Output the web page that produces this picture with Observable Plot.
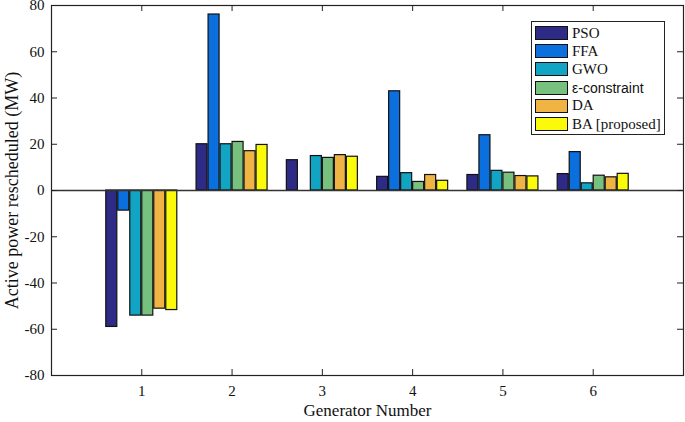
<!DOCTYPE html>
<html>
<head>
<meta charset="utf-8">
<script src="https://cdn.jsdelivr.net/npm/d3@7"></script>
<script src="https://cdn.jsdelivr.net/npm/@observablehq/plot@0.6"></script>
<style>
  html, body { margin: 0; padding: 0; background: #fff; }
  #wrap { position: relative; width: 685px; height: 422px; }
  #wrap svg text { font-family: "Liberation Serif", "Times New Roman", Times, serif; }
  #legend { position: absolute; left: 531px; top: 21px; width: 134px; height: 114px; border: 1px solid #222; background: #fff; box-sizing: border-box; padding: 2px 0 0 3px; }
  .row { display: flex; align-items: center; height: 18.2px; }
  .sw { width: 33px; height: 14px; border: 1px solid #111; box-sizing: border-box; margin-right: 4px; }
  .lab { font-family: "Liberation Serif", "Times New Roman", Times, serif; font-size: 15px; color: #111; white-space: nowrap; }
  .lab.sans { font-family: "Liberation Sans", Arial, sans-serif; font-size: 14px; }
</style>
</head>
<body>
<div id="wrap"></div>
<script>
const groups = [1, 2, 3, 4, 5, 6];
const methods = ["PSO", "FFA", "GWO", "ε-constraint", "DA", "BA [proposed]"];
const colors = ["#2e2b87", "#0b6fde", "#11a5c3", "#78c07e", "#f0b444", "#fafa0a"];
const pso = [-59.0, 20.0, 13.1, 5.9, 6.7, 7.1];
const ffa = [-8.7, 76.1, 0, 42.9, 23.9, 16.6];
const gwo = [-54.1, 20.0, 14.9, 7.5, 8.5, 3.1];
const eps = [-54.1, 21.0, 14.1, 3.7, 7.7, 6.4];
const da  = [-51.1, 17.0, 15.3, 6.7, 6.25, 5.7];
const ba  = [-51.7, 19.7, 14.6, 4.2, 6.1, 7.2];
const yTicks = [-80, -60, -40, -20, 0, 20, 40, 60, 80];

const series = [pso, ffa, gwo, eps, da, ba];
const data = [];
series.forEach((vals, i) => vals.forEach((v, j) => data.push({group: groups[j], method: methods[i], idx: i, value: v})));

const step = 0.1329, bw = 0.122;
const W = 685, H = 422, mL = 51, mR = 2, mT = 5, mB = 47;
const frameH = H - mT - mB, frameW = W - mL - mR;
const tickLen = 6;
const serif = "Liberation Serif";

const chart = Plot.plot({
  width: W, height: H,
  marginLeft: mL, marginRight: mR, marginTop: mT, marginBottom: mB,
  style: {fontFamily: serif, fontSize: "15px", color: "#111", background: "#fff"},
  x: {type: "linear", domain: [0, 7]},
  y: {domain: [-80, 80]},
  color: {domain: methods, range: colors},
  marks: [
    Plot.rectY(data, {
      x1: d => d.group + (d.idx - 2.5) * step - bw / 2,
      x2: d => d.group + (d.idx - 2.5) * step + bw / 2,
      y1: 0, y2: "value",
      fill: "method", stroke: "#111", strokeWidth: 1.2
    }),
    Plot.ruleY([0], {stroke: "#333", strokeWidth: 1.3}),
    Plot.tickX(groups, {x: d => d, insetTop: frameH - tickLen, stroke: "#222"}),
    Plot.tickX(groups, {x: d => d, insetBottom: frameH - tickLen, stroke: "#222"}),
    Plot.tickY(yTicks, {y: d => d, insetRight: frameW - tickLen, stroke: "#222"}),
    Plot.tickY(yTicks, {y: d => d, insetLeft: frameW - tickLen, stroke: "#222"}),
    Plot.frame({stroke: "#222", strokeWidth: 1.2}),
    Plot.axisX({ticks: groups, tickFormat: d => String(d), tickSize: 0, tickPadding: 10, label: null, fontSize: 15, fontFamily: serif}),
    Plot.axisY({ticks: yTicks, tickFormat: d => String(d), tickSize: 0, tickPadding: 7, label: null, fontSize: 15, fontFamily: serif}),
    Plot.text(["Generator Number"], {frameAnchor: "bottom", dy: 35, lineAnchor: "middle", textAnchor: "middle", fontSize: 17, fontFamily: serif, fill: "#111"}),
    Plot.text(["Active power rescheduled (MW)"], {frameAnchor: "left", dx: -39, rotate: -90, lineAnchor: "middle", textAnchor: "middle", fontSize: 18, fontFamily: serif, fill: "#111"})
  ]
});

const wrap = document.getElementById("wrap");
wrap.appendChild(chart);
const legend = document.createElement("div");
legend.id = "legend";
methods.forEach((m, i) => {
  const row = document.createElement("div");
  row.className = "row";
  const sw = document.createElement("div");
  sw.className = "sw";
  sw.style.background = colors[i];
  const lab = document.createElement("span");
  lab.className = "lab" + (m === "ε-constraint" ? " sans" : "");
  lab.textContent = m;
  row.appendChild(sw); row.appendChild(lab);
  legend.appendChild(row);
});
wrap.appendChild(legend);
</script>
</body>
</html>
